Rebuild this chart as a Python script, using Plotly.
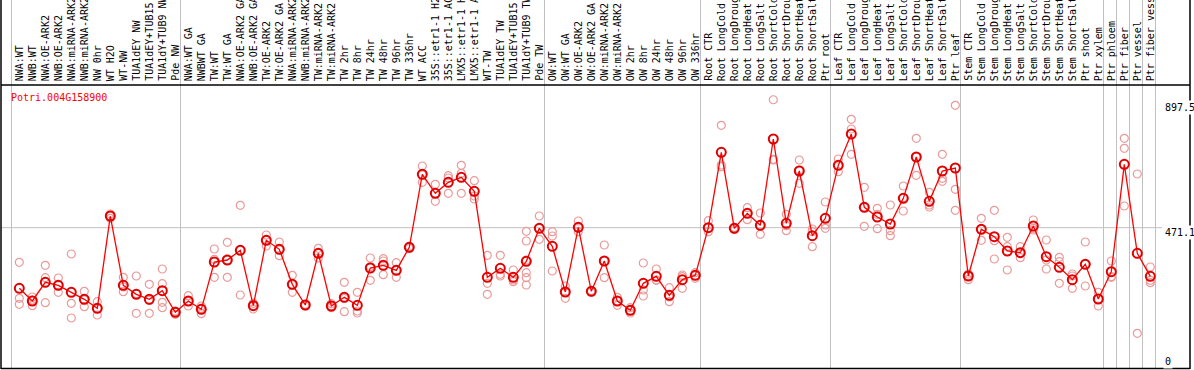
import plotly.graph_objects as go

categories = [
    "NWA:WT", "NWB:WT", "NWA:OE-ARK2", "NWB:OE-ARK2", "NWA:miRNA-ARK2", "NWB:miRNA-ARK2",
    "NW 0hr", "WT H2O", "WT-NW", "TUA1dEY NW", "TUA1dEY+TUB15 NW", "TUA1dY+TUB9 NW", "Pde NW",
    "NWA:WT GA", "NWBWT GA", "TW:WT", "TW:WT GA", "NWA:OE-ARK2 GA", "NWB:OE-ARK2 GA",
    "TW:OE-ARK2", "TW:OE-ARK2 GA", "NWA:miRNA-ARK2", "NWB:miRNA-ARK2", "TW:miRNA-ARK2",
    "TW:miRNA-ARK2", "TW 2hr", "TW 8hr", "TW 24hr", "TW 48hr", "TW 96hr", "TW 336hr",
    "WT ACC", "35S::etr1-1 H2O", "35S::etr1-1 ACC", "LMX5::etr1-1 H2O", "LMX5::etr1-1 ACC",
    "WT-TW", "TUA1dEY TW", "TUA1dEY+TUB15 TW", "TUA1dY+TUB9 TW", "Pde TW",
    "OW:WT", "OW:WT GA", "OW:OE-ARK2", "OW:OE-ARK2 GA", "OW:miRNA-ARK2", "OW:miRNA-ARK2",
    "OW 2hr", "OW 8hr", "OW 24hr", "OW 48hr", "OW 96hr", "OW 336hr",
    "Root CTR", "Root LongCold", "Root LongDrought", "Root LongHeat", "Root LongSalt",
    "Root ShortCold", "Root ShortDrought", "Root ShortHeat", "Root ShortSalt", "Ptr root",
    "Leaf CTR", "Leaf LongCold", "Leaf LongDrought", "Leaf LongHeat", "Leaf LongSalt",
    "Leaf ShortCold", "Leaf ShortDrought", "Leaf ShortHeat", "Leaf ShortSalt", "Ptr leaf",
    "Stem CTR", "Stem LongCold", "Stem LongDrought", "Stem LongHeat", "Stem LongSalt",
    "Stem ShortCold", "Stem ShortDrought", "Stem ShortHeat", "Stem ShortSalt",
    "Ptr shoot", "Ptr xylem", "Ptr phloem", "Ptr fiber", "Ptr vessel", "Ptr fiber vessel",
]

mean_values = [
    268.9, 226.7, 288.9, 278.9, 255.6, 232.2, 202.2, 510.0, 278.9, 248.9, 232.2, 261.1, 188.9,
    226.7, 198.9, 356.7, 363.3, 395.6, 211.1, 428.9, 398.9, 282.2, 213.3, 385.6, 210.0,
    238.9, 212.2, 336.7, 345.6, 328.9, 405.6, 648.9, 585.6, 622.2, 638.9, 592.2, 305.6,
    335.6, 305.6, 358.9, 468.9,
    408.9, 256.7, 472.2, 258.9, 360.0, 226.7, 195.6, 285.6, 308.9, 245.6, 297.8, 312.2,
    471.1, 722.2, 468.9, 518.9, 478.9, 766.7, 485.6, 660.0, 444.4, 502.2,
    678.9, 783.3, 538.9, 506.7, 483.3, 568.9, 706.7, 558.9, 660.0, 670.0,
    310.0, 465.6, 441.1, 393.3, 387.8, 476.7, 374.4, 338.9, 297.8, 348.9, 233.3,
    324.4, 682.2, 385.6, 308.9,
]

replicates = [
    [355.6, 235.6, 215.6], [240.0, 230.0, 211.1], [345.6, 304.4, 221.1], [303.3, 278.9, 255.6],
    [383.3, 218.9, 170.0], [258.9, 230.0, 207.8], [224.4, 202.2, 180.0], [516.7, 510.0, 502.2],
    [305.6, 273.3, 257.8], [310.0, 251.1, 185.6], [282.2, 228.9, 185.6],
    [333.3, 284.4, 222.2, 204.4], [193.3, 191.1, 182.2],
    [244.4, 225.6, 210.0], [210.0, 202.2, 184.4], [400.0, 365.6, 305.6], [422.2, 363.3, 305.6],
    [545.6, 395.6, 246.7], [218.9, 211.1, 200.0], [446.7, 428.9, 410.0], [423.3, 396.7, 377.8],
    [312.2, 280.0, 255.6], [215.6, 213.3, 210.0], [402.2, 385.6, 370.0], [217.8, 210.0, 204.4],
    [288.9, 235.6, 191.1], [255.6, 193.3, 186.7], [370.0, 341.1, 295.6], [367.8, 360.0, 314.4],
    [354.4, 328.9, 305.6], [408.9, 405.6, 402.2], [676.7, 646.7, 622.2], [615.6, 585.6, 558.9],
    [644.4, 636.7, 585.6], [678.9, 652.2, 585.6], [627.8, 576.7, 566.7], [378.9, 285.6, 248.9],
    [378.9, 315.6, 310.0], [330.0, 296.7, 291.1],
    [458.9, 426.7, 363.3, 321.1, 304.4, 280.0], [510.0, 468.9, 432.2],
    [457.8, 443.3, 326.7], [276.7, 256.7, 235.6], [493.3, 471.1, 457.8], [261.1, 258.9, 256.7],
    [413.3, 360.0, 304.4], [238.9, 226.7, 212.2], [204.4, 195.6, 186.7], [353.3, 263.3, 243.3],
    [333.3, 296.7, 295.6], [271.1, 240.0, 224.4], [313.3, 307.8, 268.9], [321.1, 311.1, 302.2],
    [494.4, 471.1, 457.8], [812.2, 680.0, 674.4], [472.2, 468.9, 465.6], [537.8, 518.9, 497.8],
    [520.0, 478.9, 448.9], [897.5, 698.9, 696.7], [515.6, 477.8, 461.1], [696.7, 663.3, 618.9],
    [466.7, 457.8, 407.8], [556.7, 480.0, 468.9],
    [700.0, 677.8, 657.8], [832.2, 800.0, 715.6], [605.6, 538.9, 475.6], [535.6, 515.6, 467.8],
    [546.7, 461.1, 444.4], [610.0, 571.1, 526.7], [768.9, 706.7, 645.6], [588.9, 546.7, 540.0],
    [715.6, 635.6, 625.6], [878.9, 598.9, 528.9],
    [316.7, 310.0, 297.8], [502.2, 465.6, 428.9], [528.9, 427.8, 366.7], [438.9, 407.8, 330.0],
    [407.8, 385.6, 371.1], [496.7, 468.9, 463.3], [430.0, 363.3, 333.3], [372.2, 357.8, 285.6],
    [316.7, 310.0, 268.9], [423.3, 348.9, 276.7], [255.6, 233.3, 210.0],
    [360.0, 307.8, 305.6], [768.9, 735.6, 543.3], [650.0, 118.9], [340.0, 295.6, 287.8],
]

# group boundaries: index of last category before each separator
group_ends = [-1, 12, 40, 52, 62, 72, 83, 84, 85, 86, 87]
gene_name = "Potri.004G158900"
y_tick_values = [897.5, 471.1, 0]
y_tick_labels = ["897.5", "471.1", "0"]

# ---- layout geometry (pixels) ----
W, H = 1194, 370
PL, PR, PT, PB = 1, 1190, 85, 369          # plot frame
X0, DX = 19.3, 13.0                        # pixel of category 0, spacing
PXPERUNIT = 0.3
xmin = (PL - X0) / DX
xmax = (PR - X0) / DX
ymax = (PB - PT) / PXPERUNIT


def px_to_paper_x(px):
    return (px - PL) / (PR - PL)


def px_to_paper_y(py):
    return (PB - py) / (PB - PT)


def idx_to_paper_x(i):
    return (i - xmin) / (xmax - xmin)


fig = go.Figure()

rep_x, rep_y = [], []
for i, reps in enumerate(replicates):
    for v in reps:
        rep_x.append(i)
        rep_y.append(v)

fig.add_trace(go.Scatter(
    x=rep_x, y=rep_y, mode="markers",
    marker=dict(symbol="circle-open", size=8, color="#eb9a9a", line=dict(width=1.2, color="#eb9a9a")),
    hoverinfo="skip", showlegend=False, cliponaxis=False,
))
fig.add_trace(go.Scatter(
    x=list(range(len(categories))), y=mean_values, mode="lines+markers",
    line=dict(color="#ff0000", width=1.3),
    marker=dict(symbol="circle-open", size=9, color="#e00000", line=dict(width=2, color="#e00000")),
    text=categories, showlegend=False, cliponaxis=False,
))

shapes = []
# vertical separators, full height
for g in group_ends:
    xp = idx_to_paper_x(g + 0.4)
    shapes.append(dict(type="line", xref="paper", yref="paper", x0=xp, x1=xp,
                       y0=0, y1=px_to_paper_y(0), line=dict(color="#c0c0c0", width=1), layer="below"))
# middle gridline
shapes.append(dict(type="line", xref="paper", yref="y", x0=0, x1=px_to_paper_x(1162),
                   y0=y_tick_values[1], y1=y_tick_values[1],
                   line=dict(color="#c0c0c0", width=1), layer="below"))
# frame
black = dict(color="black", width=1.5)
shapes.append(dict(type="line", xref="paper", yref="paper", x0=0, x1=0, y0=0, y1=px_to_paper_y(0), line=black))
shapes.append(dict(type="line", xref="paper", yref="paper", x0=1, x1=1, y0=0, y1=px_to_paper_y(0), line=black))
shapes.append(dict(type="line", xref="paper", yref="paper", x0=0, x1=1, y0=1, y1=1, line=black))
shapes.append(dict(type="line", xref="paper", yref="paper", x0=0, x1=1,
                   y0=px_to_paper_y(368.5), y1=px_to_paper_y(368.5), line=black))

annotations = []
mono = "DejaVu Sans Mono"
for i, c in enumerate(categories):
    annotations.append(dict(
        x=i, xref="x", y=px_to_paper_y(83), yref="paper", text=c, showarrow=False,
        textangle=-90, xanchor="center", yanchor="bottom",
        font=dict(family=mono, size=10, color="black"),
    ))
annotations.append(dict(
    x=px_to_paper_x(9), y=px_to_paper_y(97.5), xref="paper", yref="paper", text=gene_name,
    showarrow=False, xanchor="left", yanchor="middle", font=dict(family=mono, size=10, color="#ff0000"),
))
tick_centers = [107.7, 232.3, 361.5]
for lab, cy in zip(y_tick_labels, tick_centers):
    annotations.append(dict(
        x=px_to_paper_x(1163), y=px_to_paper_y(cy), xref="paper", yref="paper", text=lab,
        showarrow=False, xanchor="left", yanchor="middle", bgcolor="white",
        font=dict(family=mono, size=10, color="black"),
    ))

fig.update_layout(
    width=W, height=H,
    margin=dict(l=PL, r=W - PR, t=PT, b=H - PB, pad=0),
    paper_bgcolor="white", plot_bgcolor="white",
    xaxis=dict(range=[xmin, xmax], visible=False, showgrid=False, zeroline=False),
    yaxis=dict(range=[0, ymax], visible=False, showgrid=False, zeroline=False),
    shapes=shapes, annotations=annotations,
)

fig.write_html(
    "out.html",
    config={"displayModeBar": False},
    post_script="document.body.style.margin='0';document.body.style.overflow='hidden';",
)
